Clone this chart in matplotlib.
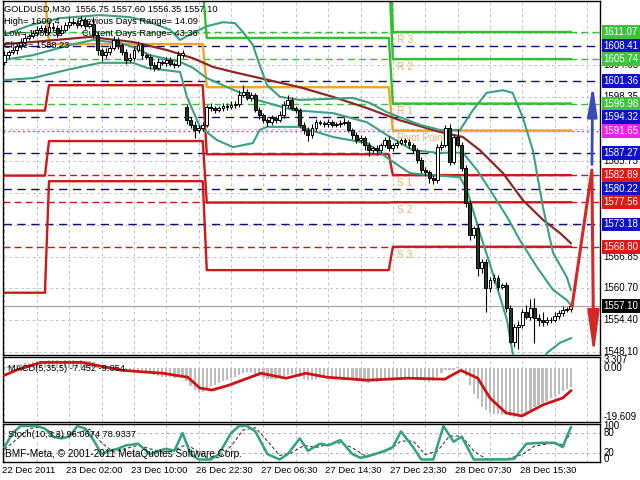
import numpy as np
import matplotlib
matplotlib.use("Agg")
from matplotlib import pyplot as plt
import matplotlib.transforms as mtransforms

plt.rcParams['font.family'] = ['Liberation Sans', 'DejaVu Sans']

W, H = 640, 480

# ---------------- candles (GOLDUSD M30, bar index 0..140) ----------------
closes = [
    1606.5, 1607.1, 1607.5, 1608.3, 1609.1, 1609.9, 1610.3, 1610.9, 1611.5, 1611.9,
    1611.1, 1612.1, 1611.9, 1610.9, 1611.5, 1612.5, 1613.0, 1612.9, 1612.5, 1613.4,
    1612.3, 1612.6, 1610.5, 1607.5, 1606.5, 1607.1, 1607.9, 1609.5, 1608.5, 1607.1,
    1605.6, 1606.0, 1607.5, 1608.5, 1606.5, 1606.2, 1604.6, 1604.0, 1605.2, 1605.0,
    1605.6, 1604.8, 1604.6, 1606.5, 1606.9, 1593.7, 1592.8, 1591.8, 1592.2, 1592.8,
    1596.3, 1596.1, 1595.7, 1596.1, 1596.5, 1596.3, 1596.7, 1596.9, 1598.7, 1599.3,
    1598.1, 1598.7, 1595.7, 1594.7, 1593.7, 1593.3, 1594.1, 1593.7, 1594.7, 1596.7,
    1597.7, 1596.1, 1595.7, 1592.8, 1591.8, 1590.8, 1592.2, 1593.3, 1593.1, 1592.9,
    1593.3, 1592.8, 1592.9, 1593.1, 1593.3, 1591.8, 1590.8, 1589.8, 1590.2, 1588.8,
    1587.8, 1588.2, 1587.8, 1588.8, 1589.8, 1588.2, 1588.8, 1589.2, 1589.8, 1589.4,
    1588.8, 1587.8, 1585.9, 1583.9, 1583.5, 1582.3, 1581.9, 1588.4, 1588.8, 1592.2,
    1585.5, 1590.4, 1588.8, 1584.3, 1577.4, 1571.1, 1572.5, 1564.6, 1565.8, 1560.7,
    1562.3, 1562.6, 1560.9, 1561.3, 1556.7, 1550.0, 1553.0, 1553.4, 1555.9, 1555.0,
    1556.7, 1554.8, 1554.4, 1554.0, 1554.4, 1554.3, 1555.2, 1555.7, 1556.4, 1556.5,
    1557.1,
]
first_open = 1605.2
gap_opens = {45: 1596.3}

wick_hi = [
    0.8, 0.4, 0.6, 0.5, 0.7, 0.9, 0.4, 0.6, 0.8, 0.5,
    0.6, 1.2, 0.7, 0.5, 0.9, 0.6, 1.0, 0.8, 0.5, 0.9,
    0.6, 0.7, 1.4, 0.6, 0.5, 0.8, 0.6, 0.7, 0.5, 0.4,
    0.6, 0.9, 0.7, 0.8, 0.5, 0.4, 0.6, 0.5, 0.7, 0.4,
    0.5, 0.6, 0.4, 0.8, 0.6, 0.5, 0.6, 0.7, 0.5, 0.6,
    0.4, 0.8, 0.5, 0.4, 0.6, 0.5, 0.7, 0.6, 0.9, 1.4,
    0.5, 0.6, 0.4, 0.7, 0.5, 0.4, 0.6, 0.5, 0.8, 0.7,
    0.9, 0.6, 0.5, 0.4, 0.6, 0.5, 0.7, 0.6, 0.4, 0.5,
    0.6, 0.4, 0.5, 0.6, 0.8, 0.5, 0.4, 0.6, 0.5, 0.4,
    0.6, 0.5, 0.7, 0.4, 0.6, 0.8, 0.5, 0.6, 0.4, 0.5,
    0.6, 0.5, 0.4, 0.6, 0.5, 0.4, 0.7, 0.6, 0.9, 0.6,
    0.8, 0.6, 1.6, 0.7, 0.5, 0.6, 0.4, 0.8, 0.5, 0.6,
    0.5, 0.9, 0.6, 0.4, 0.5, 0.6, 0.5, 0.8, 0.6, 1.4,
    1.8, 2.0, 0.8, 1.5, 0.6, 0.5, 0.7, 0.6, 0.8, 0.5,
    0.4,
]
wick_lo = [
    0.6, 0.5, 0.4, 0.7, 0.5, 0.6, 0.4, 0.5, 0.6, 0.4,
    0.7, 0.5, 0.6, 0.8, 0.4, 0.5, 0.6, 0.4, 0.7, 0.5,
    0.6, 0.5, 0.6, 0.9, 1.2, 0.5, 0.6, 0.4, 0.7, 0.6,
    0.8, 0.5, 0.6, 0.4, 0.7, 0.5, 0.9, 0.6, 0.5, 0.4,
    0.6, 0.5, 0.7, 0.4, 0.5, 0.8, 0.6, 1.5, 0.7, 0.6,
    0.4, 0.5, 0.6, 0.4, 0.5, 0.6, 0.4, 0.5, 0.6, 0.4,
    0.5, 0.6, 0.4, 0.7, 0.6, 0.8, 0.5, 0.6, 0.4, 0.5,
    0.6, 0.4, 0.5, 0.7, 0.9, 1.2, 0.5, 0.6, 0.4, 0.5,
    0.6, 0.4, 0.5, 0.6, 0.4, 0.5, 0.7, 0.6, 0.5, 1.0,
    1.1, 0.6, 1.0, 0.5, 0.4, 0.6, 0.5, 0.6, 0.4, 0.5,
    0.6, 0.5, 0.7, 0.6, 0.8, 0.9, 0.8, 0.5, 0.6, 0.4,
    0.6, 0.5, 0.4, 0.6, 0.7, 0.9, 0.6, 1.5, 1.0, 4.7,
    0.8, 0.6, 0.7, 0.5, 0.8, 0.1, 0.9, 4.3, 0.6, 0.5,
    0.6, 5.0, 1.2, 0.8, 0.6, 0.5, 0.4, 0.6, 0.5, 0.4,
    0.5,
]

# ---------------- indicators on the price chart ----------------
ma_x = [0, 7, 21.1, 31.8, 40.2, 46.6, 51.5, 56.5, 63.1, 73, 81.2, 89.6, 97.7,
        107.6, 113.3, 117.5, 123.2, 128.1, 133.1, 137.3, 140]
ma_y = [1608.7, 1609.1, 1610.1, 1609.1, 1607.5, 1605.9, 1604.2, 1603.2, 1602.0, 1600.2,
        1598.3, 1596.1, 1593.7, 1591.4, 1590.4, 1587.8, 1583.3, 1578.0, 1574.1, 1571.5, 1569.5]

bb_up_x = [0, 6.3, 13.7, 23.6, 31, 36, 40.9, 43.4, 46, 50, 54, 57, 59, 61.4, 63.1, 64.9,
           68.1, 73, 80.4, 86.1, 90.3, 94.5, 102.7, 107.6, 112.6, 115.8, 119.2, 123.2,
           125.6, 128.1, 130.6, 133.1, 135.6, 139, 140]
bb_up = [1610.5, 1612.4, 1613.8, 1614.4, 1614.0, 1613.0, 1611.5, 1609.5, 1610.6, 1612.2,
         1613.0, 1612.8, 1611.0, 1608.5, 1604.5, 1600.6, 1598.3, 1597.7, 1597.9, 1598.1,
         1597.1, 1595.3, 1592.8, 1591.8, 1591.8, 1595.7, 1599.1, 1599.6, 1599.1, 1594.3,
         1587.8, 1576.6, 1567.6, 1562.8, 1560.3]

bb_mid_x = [0, 7, 16.2, 21.9, 28.5, 31.8, 36, 43.4, 46.6, 50, 55.7, 62.4, 71.3, 81.2,
            89.6, 94.5, 100.9, 106.9, 113.3, 116.8, 120, 124.2, 127.4, 131.6, 135.6, 139, 140]
bb_mid = [1605.6, 1606.5, 1608.5, 1609.5, 1608.9, 1608.1, 1606.5, 1605.2, 1604.0, 1602.0,
          1600.0, 1597.7, 1595.7, 1595.1, 1593.3, 1590.8, 1587.8, 1587.3, 1587.3, 1583.9,
          1580.0, 1574.7, 1570.1, 1564.8, 1560.3, 1558.3, 1557.3]

bb_lo_x = [0, 7, 15.4, 23.6, 31.8, 35.2, 43.4, 45.1, 48.3, 52.5, 56.5, 61.4, 63.1, 64.9,
           73, 81.2, 89.6, 95.3, 100.2, 105.1, 112.6, 114.3, 117.5, 120.7, 124.2, 125.6,
           127.9, 130.4, 132.3, 134.1, 137.3, 140]
bb_lo = [1601.6, 1602.0, 1603.6, 1605.0, 1605.0, 1604.0, 1603.2, 1598.3, 1592.4, 1589.8,
         1588.4, 1589.2, 1591.8, 1592.4, 1592.4, 1590.4, 1589.2, 1585.9, 1583.3, 1582.9,
         1582.5, 1580.0, 1571.5, 1563.6, 1554.4, 1547.9, 1543.6, 1543.0, 1545.5, 1547.9,
         1549.9, 1550.8]

# ---------------- daily pivot levels ----------------
day_start = [0, 11, 50, 96]
last_bar = 140
piv = [1618.65, 1608.7, 1600.2, 1591.65]
r1 = [1631.4, 1619.7, 1609.9, 1596.98]
r2 = [1654.5, 1627.8, 1623.1, 1605.74]
r3 = [1667.3, 1638.8, 1632.8, 1611.07]
s1 = [1595.6, 1600.6, 1587.0, 1582.89]
s2 = [1582.8, 1589.6, 1577.5, 1577.56]
s3 = [1559.75, 1581.7, 1564.2, 1568.80]

green_levels = [1611.07, 1605.74, 1596.98]
navy_levels = [1608.41, 1601.36, 1594.32, 1587.27, 1580.22, 1573.18]
red_levels = [1582.89, 1577.56, 1568.80]
pivot_level = 1591.65
bid = 1557.10

level_names = ['R 3', 'R 2', 'R 1', 'Pivot Point', 'S 1', 'S 2', 'S 3']
level_vals = [1611.07, 1605.74, 1596.98, 1591.65, 1582.89, 1577.56, 1568.80]

price_ticks = [1548.10, 1554.40, 1560.70, 1566.85, 1573.15, 1579.45, 1585.75,
               1592.05, 1598.35, 1604.65, 1610.95]
box_vals = [1611.07, 1608.41, 1605.74, 1601.36, 1596.98, 1594.32, 1591.65,
            1587.27, 1582.89, 1580.22, 1577.56, 1573.18, 1568.80, 1557.10]
box_cols = ['#3CC43C', '#1010C8', '#3CC43C', '#1010C8', '#3CC43C', '#1010C8', '#F020F0',
            '#1010C8', '#E01818', '#1010C8', '#E01818', '#1010C8', '#E01818', '#000000']

# signal arrows (bar, price)
up_arrow = [(145.2, 1585.0), (145.4, 1600.8)]
dn_path_x = [140.3, 145.2, 145.6]
dn_path_y = [1557.1, 1583.9, 1551.0]

# ---------------- MACD(5,35,5) ----------------
macd_hist = [
    0.5, 0.8, 1.0, 1.3, 1.6, 2.0, 2.3, 2.6, 2.8, 3.0,
    3.1, 3.2, 3.3, 3.2, 3.1, 3.2, 3.3, 3.2, 3.1, 3.2,
    3.0, 2.9, 2.4, 1.6, 0.9, 0.6, 0.5, 0.6, 0.4, 0.0,
    -0.6, -1.0, -0.9, -0.6, -0.8, -1.1, -2.0, -2.8, -3.2, -3.5,
    -3.4, -3.6, -3.8, -3.2, -2.6, -5.0, -7.0, -8.8, -9.5, -9.6,
    -8.0, -7.2, -6.6, -5.9, -5.2, -4.6, -4.0, -3.5, -2.6, -1.8,
    -1.6, -1.4, -2.2, -3.0, -3.8, -4.2, -4.2, -4.3, -4.0, -3.2,
    -2.5, -2.4, -2.6, -3.5, -4.3, -4.9, -4.6, -4.2, -4.0, -3.9,
    -3.7, -3.7, -3.6, -3.5, -3.4, -3.8, -4.3, -4.9, -5.0, -5.4,
    -5.8, -5.7, -5.7, -5.2, -4.6, -4.6, -4.3, -4.0, -3.6, -3.5,
    -3.5, -3.8, -4.3, -4.8, -5.2, -5.6, -5.2, -3.5, -2.0, -0.5,
    -0.8, -0.5, 0.5, -0.2, -3.0, -6.8, -10.2, -12.6, -15.6, -17.0,
    -18.2, -18.6, -18.7, -18.9, -19.0, -19.3, -19.6, -19.4, -18.9, -18.0,
    -16.8, -15.8, -15.0, -14.2, -13.2, -12.2, -11.3, -10.2, -9.2, -8.2,
    -7.45,
]
macd_sig_x = [0, 2.8, 9, 19.2, 29, 39.2, 45.3, 48.3, 51.3, 55.5, 63.4, 69.6, 74.5, 79.7,
              89.6, 99.7, 108.8, 112.8, 117, 120, 123.9, 127.9, 133.1, 138, 140]
macd_sig = [-2.8, -0.8, 2.4, 2.4, -0.8, -2.0, -3.6, -8.0, -8.8, -6.8, -2.0, -4.0, -2.0, -3.6,
            -4.8, -4.0, -4.4, -0.8, -4.0, -12.0, -18.0, -19.3, -14.8, -12.0, -9.1]

# ---------------- Stochastic(10,3,3) ----------------
st_x = [0, 2, 4, 8, 10, 12, 14, 16, 18, 20, 22, 24, 26, 28, 30, 33, 34, 36, 38, 40, 42, 44,
        46, 48, 51, 53, 56, 58, 60, 62, 65, 68, 70, 73, 75, 78, 80, 83, 86, 88, 90, 94, 96,
        98, 101, 103, 106, 108.5, 111, 113, 116, 120, 124, 126, 129, 133, 136, 138, 139, 140]
st_main = [37, 79, 100, 100, 92, 68, 63, 68, 100, 92, 58, 16, 26, 32, 42, 47, 37, 16, 26, 32,
           26, 79, 16, 0, 0, 16, 79, 100, 100, 84, 16, 0, 16, 63, 26, 47, 42, 58, 16, 5, 10,
           26, 37, 84, 37, 0, 0, 100, 53, 68, 0, 0, 0, 2, 47, 50, 50, 37, 68, 96]
st_sig_x = [0, 3, 6, 9, 12, 15, 18, 21, 24, 27, 30, 33, 36, 39, 42, 45, 47, 50, 53, 56, 59,
            62, 65, 68, 71, 74, 77, 80, 83, 86, 89, 92, 95, 98, 101, 104, 107, 110, 113, 116,
            119, 124, 128, 131, 135, 138, 140]
st_sig = [30, 60, 92, 97, 80, 66, 80, 90, 50, 22, 33, 42, 32, 22, 28, 45, 30, 5, 6, 40, 88,
          95, 55, 12, 20, 42, 36, 45, 50, 35, 12, 15, 28, 55, 55, 15, 25, 70, 70, 25, 2, 1,
          15, 40, 48, 45, 79]

time_bars = [0, 16, 32, 48, 64, 80, 96, 112, 128]
time_text = ['22 Dec 2011', '23 Dec 02:00', '23 Dec 10:00', '26 Dec 22:30', '27 Dec 06:30',
             '27 Dec 14:30', '27 Dec 23:30', '28 Dec 07:30', '28 Dec 15:30']

# ---------------- figure ----------------
fig = plt.figure(figsize=(6.4, 4.8), dpi=100)
fig.patch.set_facecolor('white')


def rect(x0, y0, x1, y1):
    return [x0 / W, 1 - y1 / H, (x1 - x0) / W, (y1 - y0) / H]


ax = fig.add_axes(rect(3, 1, 600, 355))
ax_m = fig.add_axes(rect(3, 357, 600, 422))
ax_s = fig.add_axes(rect(3, 424, 600, 462))

xlim = (-0.37, 147.2)
grid_col = '#C4C4C4'
for a in (ax, ax_m, ax_s):
    a.set_xlim(*xlim)
    a.set_xticks([])
    a.set_yticks([])
    for sp in a.spines.values():
        sp.set_color('black')
        sp.set_linewidth(1.0)
    for b in range(0, 148, 8):
        a.axvline(b, color=grid_col, lw=0.7, ls=(0, (3, 3)), zorder=0)

ax.set_ylim(1547.49, 1617.17)
for p in price_ticks:
    ax.axhline(p, color=grid_col, lw=0.7, ls=(0, (3, 3)), zorder=0)

# full-width level lines
for p in green_levels:
    ax.axhline(p, color='#38C038', lw=1.0, ls=(0, (5, 3)), zorder=1)
for p in navy_levels:
    ax.axhline(p, color='#101070', lw=1.0, ls=(0, (6, 4)), zorder=1)
for p in red_levels:
    ax.axhline(p, color='#C81818', lw=1.0, ls=(0, (5, 3)), zorder=1)
ax.axhline(pivot_level, color='#E040E0', lw=1.0, ls=(0, (1.5, 2)), zorder=1)
ax.axhline(bid, color='#A8A8A8', lw=0.9, zorder=1)


def step_xy(levels):
    xs, ys = [], []
    for i, lv in enumerate(levels):
        s = day_start[i] if i > 0 else xlim[0]
        e = day_start[i + 1] - 1 if i + 1 < len(day_start) else last_bar
        xs += [s, e]
        ys += [lv, lv]
    return xs, ys


for lv in (s1, s2, s3):
    ax.plot(*step_xy(lv), color='#D01818', lw=1.7, zorder=2)
for lv in (r1, r2, r3):
    ax.plot(*step_xy(lv), color='#30C030', lw=1.7, zorder=2)
ax.plot(*step_xy(piv), color='#F0A428', lw=1.7, zorder=2)

for name, v in zip(level_names, level_vals):
    ax.annotate(name, xy=(97, v), xytext=(0, -2), textcoords='offset points',
                ha='left', va='top', fontsize=7.3, color='#E4B468', zorder=3)

# moving average and bollinger bands
ax.plot(ma_x, ma_y, color='#8A2828', lw=1.6, zorder=4)
for xs, ys in ((bb_up_x, bb_up), (bb_mid_x, bb_mid), (bb_lo_x, bb_lo)):
    ax.plot(xs, ys, color='#3DA07E', lw=1.5, zorder=4)

# candles
opens = [first_open] + closes[:-1]
for k, v in gap_opens.items():
    opens[k] = v
bars = np.arange(len(closes))
o = np.array(opens)
c = np.array(closes)
hi = np.maximum(o, c) + np.array(wick_hi)
lo = np.minimum(o, c) - np.array(wick_lo)
ax.vlines(bars, lo, hi, color='black', lw=0.8, zorder=6)
up = c >= o
ax.bar(bars[up], np.maximum((c - o)[up], 0.08), bottom=o[up], width=0.7,
       color='white', edgecolor='black', lw=0.7, zorder=7)
ax.bar(bars[~up], (o - c)[~up], bottom=c[~up], width=0.7,
       color='#1E3A22', edgecolor='black', lw=0.7, zorder=7)

# signal arrows
ax.annotate('', xy=up_arrow[1], xytext=up_arrow[0], annotation_clip=False,
            arrowprops=dict(arrowstyle='-|>,head_length=1.8,head_width=0.28',
                            color='#3A4CB4', lw=2.0, shrinkA=0, shrinkB=0), zorder=8)
ax.plot(dn_path_x, dn_path_y, color='#D42828', lw=2.2, zorder=8, clip_on=False)
ax.annotate('', xy=(dn_path_x[2] + 0.05, 1547.6), xytext=(dn_path_x[2], dn_path_y[2] + 4),
            annotation_clip=False,
            arrowprops=dict(arrowstyle='-|>,head_length=2.6,head_width=0.36',
                            color='#D42828', lw=1.8, shrinkA=0, shrinkB=0), zorder=8)

# right price scale
bl = mtransforms.blended_transform_factory(ax.transAxes, ax.transData)
for p in price_ticks:
    ax.text(1.006, p, f"{p:.2f}", transform=bl, fontsize=7, ha='left', va='center',
            clip_on=False, zorder=1)
for p, col in zip(box_vals, box_cols):
    ax.text(1.006, p, f"{p:.2f}", transform=bl, fontsize=7, ha='left', va='center',
            color='white', clip_on=False, zorder=5,
            bbox=dict(boxstyle='square,pad=0.2', fc=col, ec='none'))

# header texts
fs = 6.7
fig.text(4 / W, 1 - 9 / H, 'GOLDUSD,M30  1556.75 1557.60 1556.35 1557.10', fontsize=fs, va='center')
fig.text(4 / W, 1 - 21 / H, 'High= 1600.4', fontsize=fs, va='center')
fig.text(77 / W, 1 - 21 / H, 'Previous Days Range= 14.09', fontsize=fs, va='center')
fig.text(4 / W, 1 - 33 / H, 'Low= 1586.32', fontsize=fs, va='center')
fig.text(82 / W, 1 - 33 / H, 'Current Days Range= 43.36', fontsize=fs, va='center')
fig.text(4 / W, 1 - 45 / H, 'Close= 1588.23', fontsize=fs, va='center')

# MACD panel
ax_m.set_ylim(-21.75, 4.6)
ax_m.bar(bars, macd_hist, width=0.55, color='#BDBDBD', zorder=2)
ax_m.plot(macd_sig_x, macd_sig, color='#CC1414', lw=2.0, zorder=3)
ax_m.text(0.008, 0.82, 'MACD(5,35,5) -7.452 -9.054', transform=ax_m.transAxes,
          fontsize=fs, va='center')
blm = mtransforms.blended_transform_factory(ax_m.transAxes, ax_m.transData)
for v, t in ((3.307, '3.307'), (0.0, '0.00'), (-19.609, '-19.609')):
    ax_m.text(1.006, v, t, transform=blm, fontsize=7, ha='left', va='center', clip_on=False)

# Stochastic panel
ax_s.set_ylim(-7.5, 106)
for lvl in (80, 20):
    ax_s.axhline(lvl, color='#B0B0B0', lw=0.7, ls=(0, (3, 3)), zorder=1)
ax_s.plot(st_sig_x, st_sig, color='#404040', lw=0.8, ls=(0, (3, 2)), zorder=2)
ax_s.plot(st_x, st_main, color='#33A084', lw=1.8, zorder=3)
ax_s.text(0.008, 0.72, 'Stoch(10,3,3) 96.0674 78.9337', transform=ax_s.transAxes,
          fontsize=fs, va='center')
ax_s.text(0.003, 0.2, 'BMF-Meta, \u00a9 2001-2011 MetaQuotes Software Corp.',
          transform=ax_s.transAxes, fontsize=7.2, va='center')
bls = mtransforms.blended_transform_factory(ax_s.transAxes, ax_s.transData)
for v, t in ((100, '100'), (80, '80'), (20, '20'), (0, '0')):
    ax_s.text(1.006, v, t, transform=bls, fontsize=7, ha='left', va='center', clip_on=False)

# time axis
blt = mtransforms.blended_transform_factory(ax_s.transData, ax_s.transAxes)
for b, t in zip(time_bars, time_text):
    ax_s.annotate(t, xy=(b, 0), xycoords=blt, xytext=(-2, -3), textcoords='offset points',
                  ha='left', va='top', fontsize=6.8, annotation_clip=False)

fig.savefig('out.png', dpi=100)
